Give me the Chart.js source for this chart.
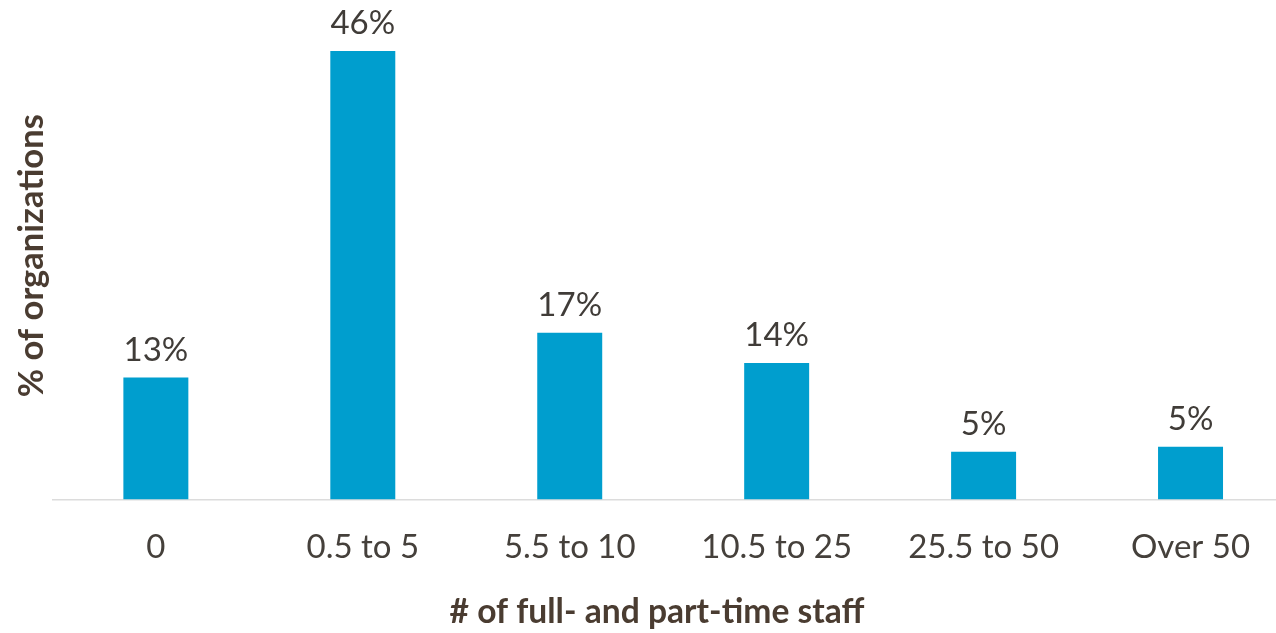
<!DOCTYPE html>
<html>
<head>
<meta charset="utf-8">
<script src="https://cdn.jsdelivr.net/npm/chart.js@4"></script>
<style>
  html, body { margin: 0; padding: 0; background: #ffffff; overflow: hidden; }
  #wrap { position: relative; width: 1300px; height: 633px; }
</style>
</head>
<body>
<div id="wrap"><canvas id="c"></canvas></div>
<script>
// Data
const categories = ['0', '0.5 to 5', '5.5 to 10', '10.5 to 25', '25.5 to 50', 'Over 50'];
const shares = [12.5, 46, 17.1, 14, 4.9, 5.4];
const yTitle = '% of organizations';
const xTitle = '# of full- and part-time staff';

const barLabels = {
  id: 'barLabels',
  afterDatasetsDraw(chart) {
    const ctx = chart.ctx;
    const meta = chart.getDatasetMeta(0);
    ctx.save();
    ctx.font = '33px Lato';
    ctx.fillStyle = '#403c38';
    ctx.textAlign = 'center';
    ctx.textBaseline = 'alphabetic';
    meta.data.forEach((bar, i) => {
      ctx.fillText(Math.round(shares[i]) + '%', bar.x, bar.y - 17);
    });
    ctx.restore();
  }
};

const xAxisTitle = {
  id: 'xAxisTitle',
  afterDraw(chart, args, opts) {
    const ctx = chart.ctx;
    ctx.save();
    ctx.font = 'bold 34px Lato';
    ctx.fillStyle = '#4a3c31';
    ctx.textAlign = 'center';
    ctx.textBaseline = 'alphabetic';
    ctx.fillText(opts.text, opts.x, opts.y, opts.maxWidth);
    ctx.restore();
  }
};

new Chart(document.getElementById('c'), {
  type: 'bar',
  data: {
    labels: categories,
    datasets: [{
      data: shares,
      backgroundColor: '#009ECE',
      borderWidth: 0,
      barPercentage: 0.314,
      categoryPercentage: 1
    }]
  },
  options: {
    responsive: true,
    maintainAspectRatio: false,
    animation: false,
    devicePixelRatio: 1,
    layout: { padding: { top: 12, right: 6, bottom: 38, left: 0 } },
    plugins: {
      legend: { display: false },
      tooltip: { enabled: false },
      xAxisTitle: { text: xTitle, x: 657, y: 623, maxWidth: 415 }
    },
    scales: {
      x: {
        grid: { display: false, drawTicks: false },
        border: { display: true, color: '#dcdcdc', width: 1.5 },
        ticks: {
          font: { family: 'Lato', size: 33 },
          color: '#45403b',
          padding: 28,
          maxRotation: 0,
          autoSkip: false
        }
      },
      y: {
        min: 0,
        max: 50,
        grid: { display: false, drawTicks: false },
        border: { display: false },
        ticks: { display: false },
        title: {
          display: true,
          text: yTitle,
          font: { family: 'Lato', size: 34.5, weight: 'bold' },
          color: '#4a3c31',
          padding: { top: 11, bottom: 0 }
        }
      }
    }
  },
  plugins: [barLabels, xAxisTitle]
});
</script>
</body>
</html>
